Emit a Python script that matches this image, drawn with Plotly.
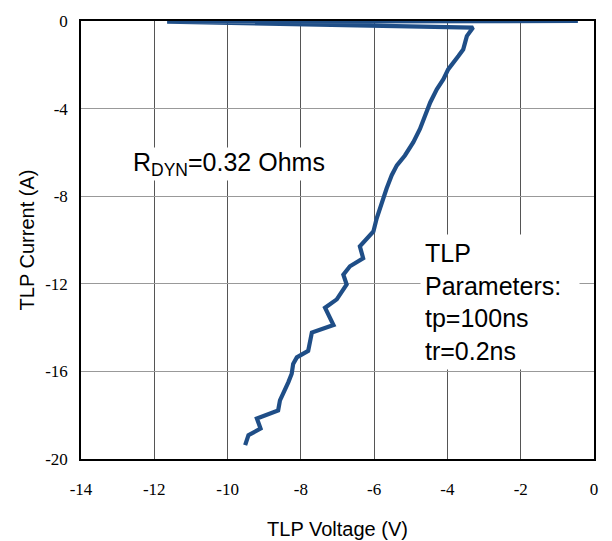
import plotly.graph_objects as go

# TLP I-V curve (voltage in V, current in A)
voltage = [-0.44, -11.65, -3.30, -3.47, -3.52, -3.57, -3.70, -3.84, -3.98, -4.11,
           -4.29, -4.47, -4.57, -4.75, -4.93, -5.16, -5.38, -5.52, -5.66, -5.79,
           -5.93, -6.02, -6.39, -6.30, -6.66, -6.84, -6.75, -7.02, -7.34, -7.11,
           -7.70, -7.80, -8.11, -8.21, -8.25, -8.34, -8.57, -8.62, -9.20, -9.10,
           -9.43, -9.52]
current = [0.0, -0.03, -0.30, -0.69, -1.00, -1.30, -1.60, -1.90, -2.21, -2.66,
           -3.12, -3.72, -4.17, -4.93, -5.53, -6.14, -6.59, -7.04, -7.65, -8.25,
           -9.01, -9.61, -10.29, -10.83, -11.20, -11.58, -12.03, -12.71, -13.09, -13.88,
           -14.23, -15.06, -15.36, -15.66, -16.11, -16.49, -17.32, -17.78, -18.15, -18.61,
           -18.91, -19.37]

x_ticks = [-14, -12, -10, -8, -6, -4, -2, 0]
y_ticks = [0, -4, -8, -12, -16, -20]

fig = go.Figure()
fig.add_trace(go.Scatter(
    x=voltage, y=current, mode="lines",
    line=dict(color="#1f4e87", width=4.2),
    showlegend=False, cliponaxis=False,
))

fig.update_layout(
    width=612, height=541,
    margin=dict(l=81, r=18, t=18, b=82),
    paper_bgcolor="white", plot_bgcolor="white",
    font=dict(family="Liberation Sans", color="black"),
)

fig.update_xaxes(
    range=[-14, 0], tickvals=x_ticks, ticktext=[str(v) for v in x_ticks],
    tickfont=dict(family="Liberation Serif", size=17, color="black"),
    ticks="", ticklabelstandoff=14, automargin=False,
    showgrid=True, gridcolor="#555555", gridwidth=1,
    showline=True, linecolor="black", linewidth=1.5, mirror=True,
    zeroline=False,
    title=dict(text="TLP Voltage (V)", font=dict(size=20, family="Liberation Sans"), standoff=24),
)
fig.update_yaxes(
    range=[-20, 0], tickvals=y_ticks, ticktext=[str(v) for v in y_ticks],
    tickfont=dict(family="Liberation Serif", size=17, color="black"),
    ticks="", ticklabelstandoff=8, automargin=True,
    showgrid=True, gridcolor="#999999", gridwidth=1,
    showline=True, linecolor="black", linewidth=1.5, mirror=True,
    zeroline=False,
    title=dict(text="TLP Current (A)", font=dict(size=20, family="Liberation Sans"), standoff=5),
)

fig.add_annotation(
    x=-12.6, y=-6.55, xref="x", yref="y", xanchor="left", yanchor="middle",
    text="R<sub>DYN</sub>=0.32 Ohms", showarrow=False,
    font=dict(size=25, family="Liberation Sans", color="black"),
    bgcolor="white", borderpad=0,
)
fig.add_annotation(
    x=-4.75, y=-12.85, xref="x", yref="y", xanchor="left", yanchor="middle",
    text="TLP<br>Parameters:<br>tp=100ns<br>tr=0.2ns", showarrow=False, align="left",
    font=dict(size=25, family="Liberation Sans", color="black"),
    bgcolor="white", borderpad=4, width=150,
)

fig.write_html("out.html")
